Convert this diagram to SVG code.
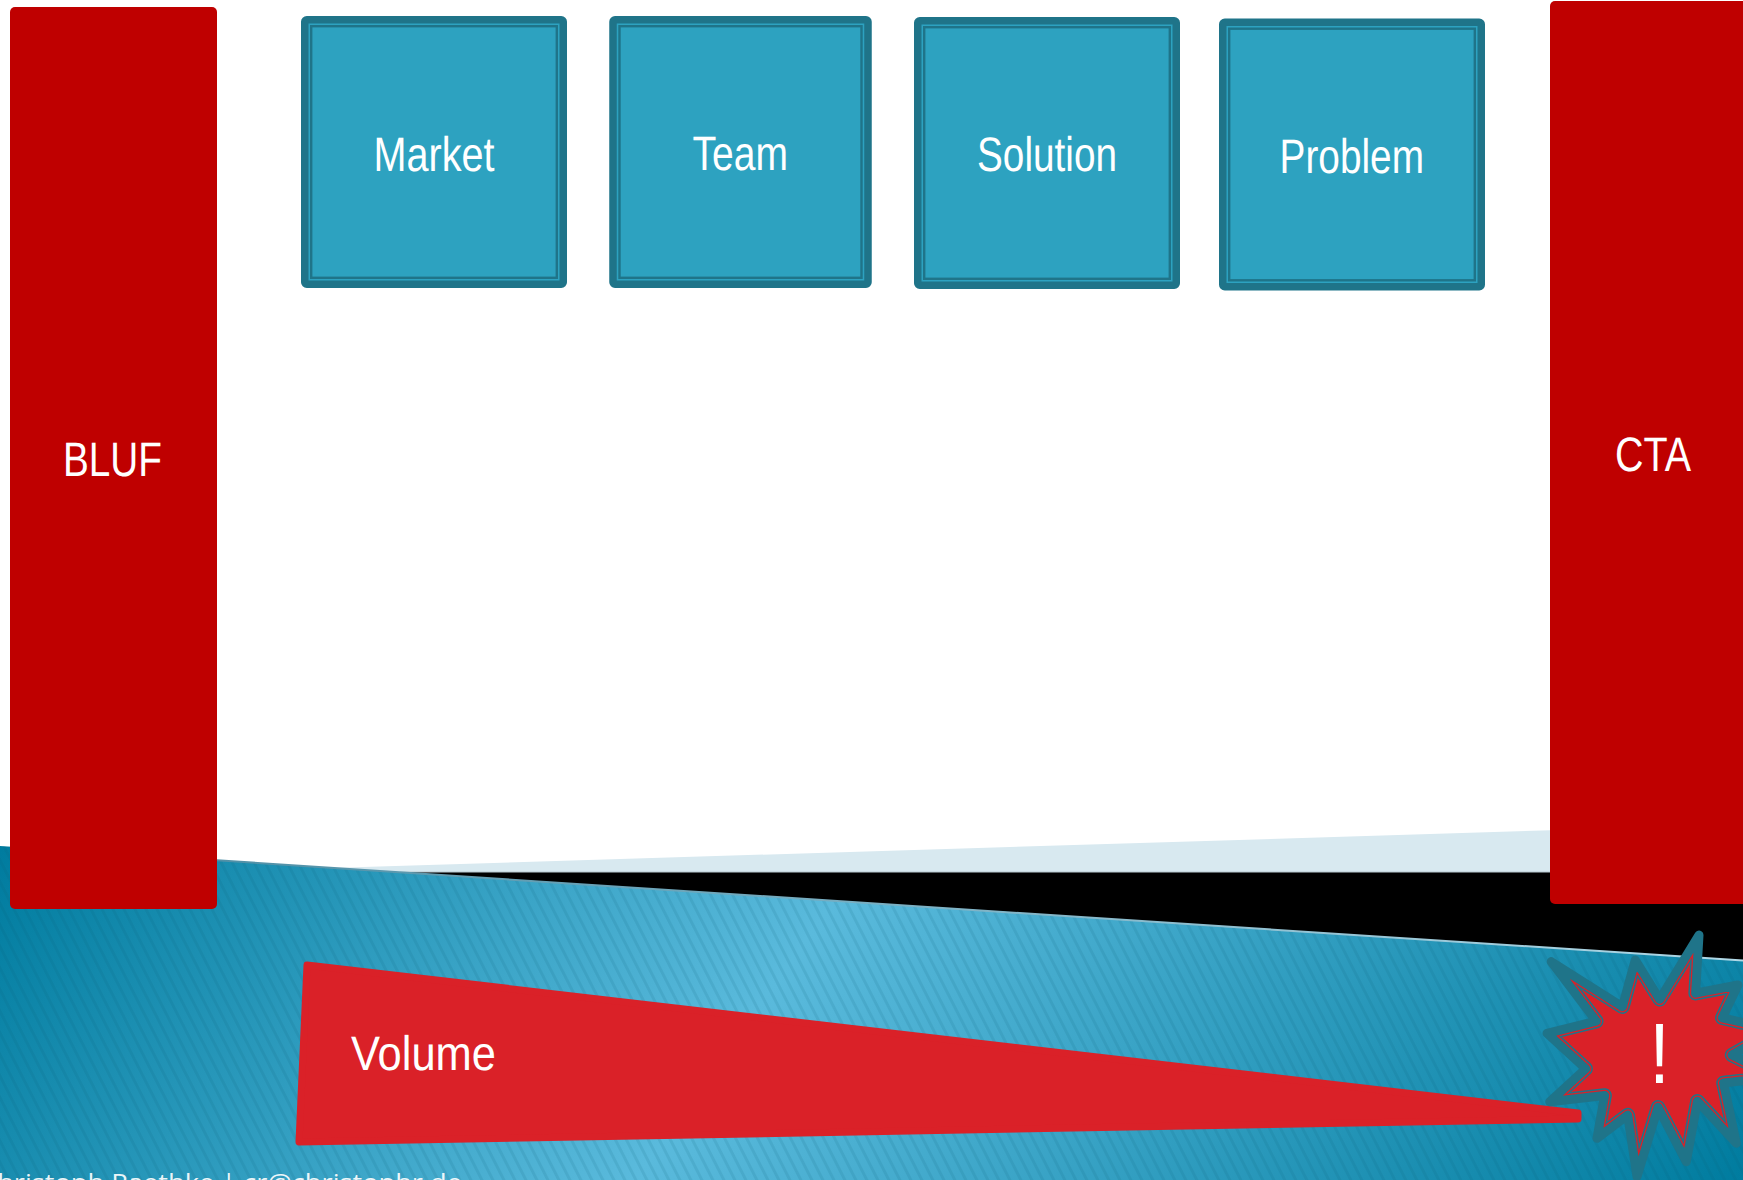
<svg xmlns="http://www.w3.org/2000/svg" width="1743" height="1180" viewBox="0 0 1743 1180">
<style>
.t{font-family:"Liberation Sans",Arial,sans-serif;font-size:48.500px;fill:#fff;text-rendering:geometricPrecision}
.red{fill:#bf0000}
.b{fill:#2da2c0;stroke:#1f7489;stroke-width:7.500}
.bi{fill:none;stroke:#1f7489;stroke-width:2.400}
.v{fill:#da2128}
</style>
<defs>
<linearGradient id="bg" gradientUnits="userSpaceOnUse" x1="0" y1="850" x2="1310" y2="1785">
<stop offset="0" stop-color="#007c9f"/><stop offset=".44" stop-color="#5abadc"/><stop offset="1" stop-color="#007c9f"/>
</linearGradient>
<linearGradient id="edge" gradientUnits="userSpaceOnUse" x1="200" y1="0" x2="1743" y2="0">
<stop offset="0" stop-color="#4f8fa6"/><stop offset="1" stop-color="#b0d8e6"/>
</linearGradient>
<pattern id="st" width="9.800" height="10" patternUnits="userSpaceOnUse" patternTransform="rotate(-27)">
<rect width="3" height="10" fill="#055a78" opacity=".12"/>
</pattern>
<path id="s" d="M1699 935L1695.600 993.200L1738 985L1722.300 1017.800L1776 1030L1732 1055L1776 1077L1723.500 1083L1736.300 1143.300L1697.400 1101.300L1686.300 1161.700L1658 1107.300L1637 1176.700L1627.700 1115.100L1597 1138.300L1604.600 1095.500L1549.700 1101.700L1585.700 1068.700L1547 1033.300L1596.300 1021.200L1551.300 961.700L1622.400 1006.700L1635.300 960L1659.700 999.300Z"/>
<clipPath id="sc"><use href="#s"/></clipPath>
</defs>
<rect width="1743" height="1180" fill="#fff"/>
<g id="background">
<polygon points="330,868 1560,830 1560,872 400,872" fill="#d8e9f0"/>
<polygon points="396,872 1743,872 1743,962" fill="#000"/>
<line x1="400" y1="872" x2="1550" y2="872" stroke="#b8c8d0" stroke-width="1"/>
<polygon points="0,846 1743,960.500 1743,1180 0,1180" fill="url(#bg)"/>
<polygon points="0,846 1743,960.500 1743,1180 0,1180" fill="url(#st)"/>
<line x1="217" y1="860.300" x2="1743" y2="960.500" stroke="url(#edge)" stroke-width="2"/>
<text x="-20" y="1191" font-family="'Open Sans','Noto Sans',sans-serif" font-size="24" fill="#fff" fill-opacity=".92" textLength="482" lengthAdjust="spacingAndGlyphs">Christoph Raethke | cr@christophr.de</text>
</g>
<g id="bluf"><rect class="red" x="10" y="7" width="207" height="902" rx="5"/><text class="t" x="63" y="476" textLength="99" lengthAdjust="spacingAndGlyphs">BLUF</text></g>
<g id="cta"><rect class="red" x="1550" y="1" width="203" height="903" rx="5"/><text class="t" x="1615" y="471" textLength="76" lengthAdjust="spacingAndGlyphs">CTA</text></g>
<g id="market"><rect class="b" x="304.750" y="19.750" width="258.500" height="264.500" rx="2"/><rect class="bi" x="311.200" y="26.200" width="245.600" height="251.600"/><text class="t" x="373.500" y="171" textLength="121" lengthAdjust="spacingAndGlyphs">Market</text></g>
<g id="team"><rect class="b" x="613" y="19.750" width="255" height="264.500" rx="2"/><rect class="bi" x="619.500" y="26.200" width="242" height="251.600"/><text class="t" x="692.500" y="170" textLength="95.500" lengthAdjust="spacingAndGlyphs">Team</text></g>
<g id="solution"><rect class="b" x="917.750" y="20.750" width="258.500" height="264.500" rx="2"/><rect class="bi" x="924.200" y="27.200" width="245.600" height="251.600"/><text class="t" x="977" y="171" textLength="140" lengthAdjust="spacingAndGlyphs">Solution</text></g>
<g id="problem"><rect class="b" x="1222.750" y="22.250" width="258.500" height="264.500" rx="2"/><rect class="bi" x="1229.200" y="28.700" width="245.600" height="251.600"/><text class="t" x="1279.500" y="172.700" textLength="144.500" lengthAdjust="spacingAndGlyphs">Problem</text></g>
<g id="volume"><polygon class="v" points="307,965 1578,1113 1578,1119 299,1142" stroke="#da2128" stroke-width="7" stroke-linejoin="round"/><text class="t" x="351" y="1070" textLength="145" lengthAdjust="spacingAndGlyphs">Volume</text></g>
<g id="burst">
<use href="#s" class="v"/>
<g clip-path="url(#sc)" fill="none" stroke-linejoin="round">
<use href="#s" stroke="#1f7489" stroke-width="14.500"/>
<use href="#s" stroke="#da2128" stroke-width="11.500"/>
</g>
<use href="#s" fill="none" stroke="#1f7489" stroke-width="9" stroke-linejoin="round"/>
<text x="1649.500" y="1083" font-family="'Liberation Sans',Arial,sans-serif" font-size="85" fill="#fff" textLength="20" lengthAdjust="spacingAndGlyphs">!</text>
</g>
<g id="connectors"/>
</svg>
